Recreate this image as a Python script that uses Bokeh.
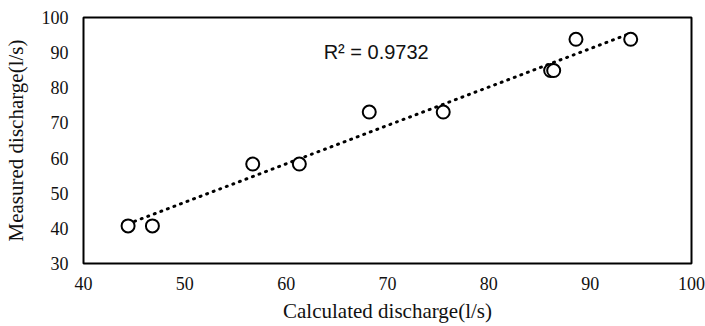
import numpy as np
from bokeh.plotting import figure
from bokeh.models import FixedTicker, Range1d, Label
from bokeh.embed import file_html
from bokeh.resources import INLINE

calculated = [44.4, 46.8, 56.7, 61.3, 68.2, 75.5, 86.1, 86.4, 88.6, 94.0]
measured = [40.7, 40.7, 58.3, 58.3, 73.1, 73.1, 84.9, 84.9, 93.8, 93.8]
x_ticks = [40, 50, 60, 70, 80, 90, 100]
y_ticks = [30, 40, 50, 60, 70, 80, 90, 100]
r2_text = "R\u00b2 = 0.9732"

p = figure(width=705, height=326, output_backend="svg", toolbar_location=None,
           x_range=Range1d(40, 100), y_range=Range1d(30, 100),
           min_border_left=83, min_border_right=14, min_border_top=17, min_border_bottom=63)
p.background_fill_color = "white"
p.border_fill_color = "white"
p.outline_line_color = "black"
p.outline_line_width = 2
p.xgrid.visible = False
p.ygrid.visible = False

for ax, ticks in ((p.xaxis, x_ticks), (p.yaxis, y_ticks)):
    ax.ticker = FixedTicker(ticks=ticks)
    ax.axis_line_color = None
    ax.major_tick_line_color = None
    ax.minor_tick_line_color = None
    ax.major_tick_in = 0
    ax.major_tick_out = 0
    ax.minor_tick_in = 0
    ax.minor_tick_out = 0
    ax.major_label_text_font = "Liberation Serif"
    ax.major_label_text_font_size = "18px"
    ax.major_label_text_color = "#111111"
    ax.axis_label_text_font = "Liberation Serif"
    ax.axis_label_text_font_size = "21px"
    ax.axis_label_text_font_style = "normal"
    ax.axis_label_text_color = "#111111"

p.xaxis.axis_label = "Calculated discharge(l/s)"
p.yaxis.axis_label = "Measured discharge(l/s)"
p.xaxis.major_label_standoff = 13
p.yaxis.major_label_standoff = 15
p.xaxis.axis_label_standoff = 6
p.yaxis.axis_label_standoff = 11

# linear trendline fitted to the data
xa = np.array(calculated)
ya = np.array(measured)
slope, intercept = np.polyfit(xa, ya, 1)
xs = [min(calculated), max(calculated)]
ys = [slope * v + intercept for v in xs]
p.line(xs, ys, line_color="black", line_width=3, line_dash="1 6", line_cap="round")

p.scatter(calculated, measured, marker="circle", size=13, fill_color="white",
          line_color="black", line_width=2)

p.add_layout(Label(x=63.7, y=90.1, text=r2_text, text_font="Liberation Sans",
                   text_font_size="20px", text_baseline="alphabetic", text_align="left",
                   text_color="#111111"))

open("out.html", "w").write(file_html(p, INLINE))
